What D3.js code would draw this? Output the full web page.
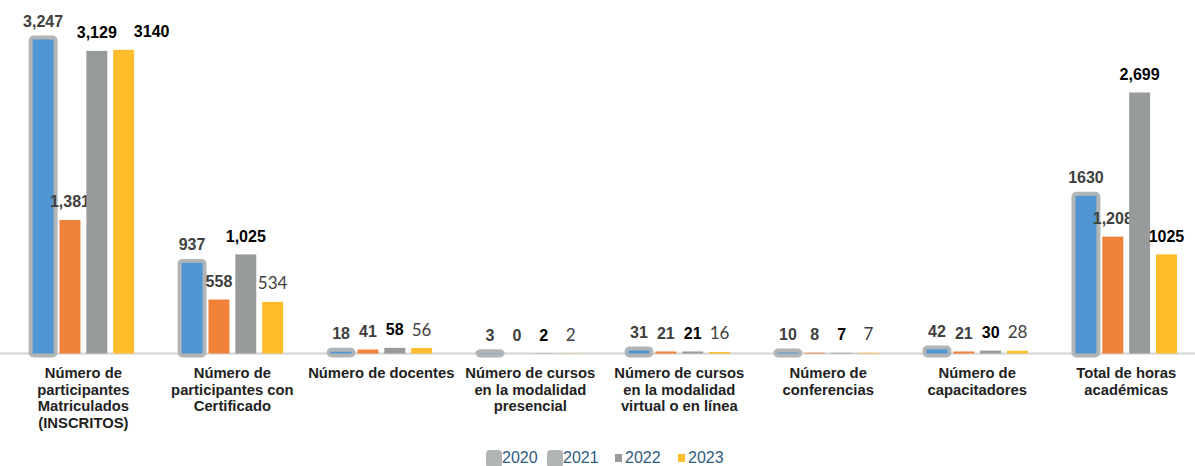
<!DOCTYPE html>
<html>
<head>
<meta charset="utf-8">
<script src="https://cdn.jsdelivr.net/npm/d3@7"></script>
<style>
  body { margin: 0; background: #fff; }
  svg { display: block; }
</style>
</head>
<body>
<div id="chart"></div>
<script>
// chart data
var categories = [
  ["Número de", "participantes", "Matriculados", "(INSCRITOS)"],
  ["Número de", "participantes con", "Certificado"],
  ["Número de docentes"],
  ["Número de cursos", "en la modalidad", "presencial"],
  ["Número de cursos", "en la modalidad", "virtual o en línea"],
  ["Número de", "conferencias"],
  ["Número de", "capacitadores"],
  ["Total de horas", "académicas"]
];
var years = ["2020", "2021", "2022", "2023"];

var values2020 = [3247, 937, 18, 3, 31, 10, 42, 1630];
var values2021 = [1381, 558, 41, 0, 21, 8, 21, 1208];
var values2022 = [3129, 1025, 58, 2, 21, 7, 30, 2699];
var values2023 = [3140, 534, 56, 2, 16, 7, 28, 1025];

// value labels as printed on the chart
var labels2020 = ["3,247", "937", "18", "3", "31", "10", "42", "1630"];
var labels2021 = ["1,381", "558", "41", "0", "21", "8", "21", "1,208"];
var labels2022 = ["3,129", "1,025", "58", "2", "21", "7", "30", "2,699"];
var labels2023 = ["3140", "534", "56", "2", "16", "7", "28", "1025"];

var svgWidth = 1195;
var svgHeight = 466;

var colors = { "2020": "#4f96d3", "2021": "#f0823a", "2022": "#989b9c", "2023": "#fdbd2b" };
var borderColor = "#b2b5b6";

// label styles per series (2023 only some are bold)
var bold2023 = [true, false, false, false, false, false, false, true];
// hand-moved labels (key: year-categoryIndex), pixels
var labelNudge = { "2023-0": 28 };

var svg = d3.select("#chart")
  .append("svg")
  .attr("width", svgWidth)
  .attr("height", svgHeight);

var baseline = 353.5;

var x0 = d3.scaleBand()
  .domain(d3.range(categories.length))
  .range([8.9, 1200.7])
  .padding(0);

var groupSpan = 101.5;
var x1 = d3.scaleBand()
  .domain(years)
  .range([(x0.bandwidth() - groupSpan) / 2, (x0.bandwidth() + groupSpan) / 2])
  .paddingInner(0.22);

var y = d3.scaleLinear()
  .domain([0, 3500])
  .range([baseline, 15]);

var series = {
  "2020": { values: values2020, labels: labels2020 },
  "2021": { values: values2021, labels: labels2021 },
  "2022": { values: values2022, labels: labels2022 },
  "2023": { values: values2023, labels: labels2023 }
};

// axis line
svg.append("line")
  .attr("x1", 0)
  .attr("x2", svgWidth)
  .attr("y1", baseline)
  .attr("y2", baseline)
  .attr("stroke", "#d3d3d3")
  .attr("stroke-width", 2);

var groups = svg.selectAll("g.group")
  .data(categories)
  .enter()
  .append("g")
  .attr("class", "group")
  .attr("transform", function(d, i) { return "translate(" + x0(i) + ",0)"; });

groups.each(function(cat, i) {
  var g = d3.select(this);
  years.forEach(function(yr) {
    var v = series[yr].values[i];
    var bx = x1(yr);
    var bw = x1.bandwidth();
    var top = y(v);

    if (yr === "2020") {
      // gray rounded frame around 2020 bars
      g.append("rect")
        .attr("x", bx - 4)
        .attr("y", top - 4)
        .attr("width", bw + 8)
        .attr("height", baseline - top + 8)
        .attr("rx", 5)
        .attr("fill", borderColor);
    }
    g.append("rect")
      .attr("x", bx)
      .attr("y", top)
      .attr("width", bw)
      .attr("height", baseline - top)
      .attr("fill", colors[yr]);

    var bold = true, fill = "#404040", family = "'Liberation Sans', Arial, sans-serif";
    if (yr === "2022") fill = "#000";
    if (yr === "2023") {
      bold = bold2023[i];
      fill = bold ? "#000" : "#404040";
      if (!bold) family = "Lato, 'Open Sans', sans-serif";
    }
    var dx = labelNudge[yr + "-" + i] || 0;
    g.append("text")
      .attr("x", bx + bw / 2 + dx)
      .attr("y", top - 12.5)
      .attr("text-anchor", "middle")
      .attr("font-family", family)
      .attr("font-size", bold ? 16 : 17)
      .attr("font-weight", bold ? "bold" : "normal")
      .attr("fill", fill)
      .text(series[yr].labels[i]);
  });

  // category label
  var t = g.append("text")
    .attr("x", x0.bandwidth() / 2)
    .attr("y", 378)
    .attr("text-anchor", "middle")
    .attr("font-family", "'Liberation Sans', Arial, sans-serif")
    .attr("font-size", 14.8)
    .attr("font-weight", "bold")
    .attr("fill", "#222");
  cat.forEach(function(line, k) {
    t.append("tspan")
      .attr("x", x0.bandwidth() / 2)
      .attr("dy", k === 0 ? 0 : 16.7)
      .text(line);
  });
});

// legend
var legendX = [486, 547, 615, 678];
var legend = svg.append("g");
years.forEach(function(yr, k) {
  var lg = legend.append("g").attr("transform", "translate(" + legendX[k] + ",0)");
  if (k < 2) {
    lg.append("rect")
      .attr("x", 0).attr("y", 450)
      .attr("width", 16).attr("height", 18)
      .attr("rx", 4)
      .attr("fill", borderColor);
    lg.append("text")
      .attr("x", 16).attr("y", 463)
      .attr("font-family", "'Liberation Sans', Arial, sans-serif")
      .attr("font-size", 16)
      .attr("fill", "#2f5b80")
      .text(yr);
  } else {
    lg.append("rect")
      .attr("x", 0).attr("y", 454)
      .attr("width", 7).attr("height", 8)
      .attr("fill", colors[yr]);
    lg.append("text")
      .attr("x", 10).attr("y", 463)
      .attr("font-family", "'Liberation Sans', Arial, sans-serif")
      .attr("font-size", 16)
      .attr("fill", "#2f5b80")
      .text(yr);
  }
});
</script>
</body>
</html>
